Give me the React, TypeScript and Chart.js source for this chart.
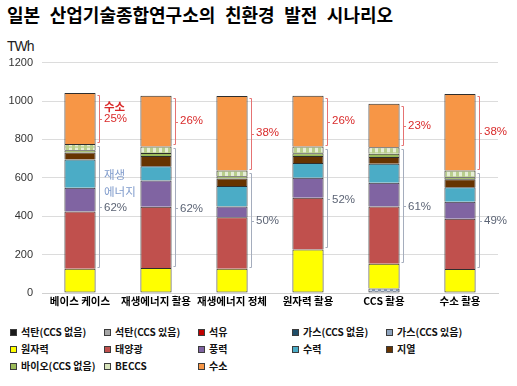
import React, { useEffect, useRef } from 'react';
import { Chart, registerables } from 'chart.js';

Chart.register(...registerables);

// ---------- data ----------
const categories = ['베이스 케이스', '재생에너지 활용', '재생에너지 정체', '원자력 활용', 'CCS 활용', '수소 활용'];

const coalNoCCS = [0, 0, 0, 0, 0, 0];
const coalCCS = [0, 0, 0, 0, 0, 0];
const oil = [0, 0, 0, 0, 0, 0];
const gasNoCCS = [0, 0, 0, 0, 0, 0];
const gasCCS = [0, 0, 0, 0, 24, 0];
const nuclear = [127, 130, 127, 227, 129, 125];
const solar = [298, 319, 268, 269, 298, 262];
const wind = [123, 137, 56, 104, 123, 88];
const hydro = [147, 74, 107, 78, 99, 76];
const geothermal = [37, 54, 38, 36, 36, 42];
const bio = [12, 16, 12, 14, 16, 10];
const beccs = [33, 34, 30, 35, 34, 35];
const hydrogen = [265, 264, 388, 265, 227, 399];

const seriesNames = [
  '석탄(CCS 없음)', '석탄(CCS 있음)', '석유', '가스(CCS 없음)', '가스(CCS 있음)',
  '원자력', '태양광', '풍력', '수력', '지열',
  '바이오(CCS 없음)', 'BECCS', '수소',
];
const seriesValues = [coalNoCCS, coalCCS, oil, gasNoCCS, gasCCS, nuclear, solar, wind, hydro, geothermal, bio, beccs, hydrogen];
const seriesColors = [
  '#1A1A1A', '#A6A6A6', '#C00000', '#1F4E69', '#8EA4BE',
  '#FFFF00', '#C0504D', '#8064A2', '#4BACC6', '#663300',
  '#9BBB59', '#D8E4BC', '#F79646',
];

const hydrogenPct = ['25%', '26%', '38%', '26%', '23%', '38%'];
const renewPct = ['62%', '62%', '50%', '52%', '61%', '49%'];
const hydrogenNote = '수소';
const renewNote = ['재생', '에너지'];

const yTicks = [0, 200, 400, 600, 800, 1000, 1200];

const NUCLEAR_IDX = 5;
const BECCS_IDX = 11;
const H2_IDX = 12;

function makePattern(kind: 'beccs' | 'gas'): CanvasPattern | string {
  const c = document.createElement('canvas');
  c.width = 6;
  c.height = 6;
  const g = c.getContext('2d');
  if (!g) return kind === 'beccs' ? '#D8E4BC' : '#8EA4BE';
  if (kind === 'beccs') {
    g.fillStyle = '#E6EED6';
    g.fillRect(0, 0, 6, 6);
    g.fillStyle = '#B9CE8C';
    g.fillRect(0, 0, 3, 6);
    g.fillStyle = '#C9DAA3';
    g.fillRect(3, 2, 3, 2);
  } else {
    g.fillStyle = '#D3DCE8';
    g.fillRect(0, 0, 6, 6);
    g.fillStyle = '#7F93AE';
    g.fillRect(0, 0, 3, 3);
    g.fillRect(3, 3, 3, 3);
  }
  const p = g.createPattern(c, 'repeat');
  return p || (kind === 'beccs' ? '#D8E4BC' : '#8EA4BE');
}

function cumulative(upTo: number, i: number) {
  let s = 0;
  for (let k = 0; k <= upTo; k++) s += seriesValues[k][i] || 0;
  return s;
}

function lowestNonZero(i: number) {
  for (let k = 0; k < seriesValues.length; k++) if (seriesValues[k][i]) return k;
  return -1;
}

function drawBracket(ctx: CanvasRenderingContext2D, right: number, top: number, bottom: number, color: string) {
  const vx = Math.round(right + 3) + 0.5;
  const hx = vx - 2;
  const t = Math.round(top + 2) + 0.5;
  const b = Math.round(bottom - 2) + 0.5;
  const mid = Math.round((t + b) / 2) + 0.5;
  ctx.save();
  ctx.strokeStyle = color;
  ctx.lineWidth = 1;
  ctx.beginPath();
  ctx.moveTo(hx, t);
  ctx.lineTo(vx, t);
  ctx.lineTo(vx, b);
  ctx.lineTo(hx, b);
  ctx.moveTo(vx, mid);
  ctx.lineTo(vx + 2.5, mid);
  ctx.stroke();
  ctx.restore();
  return { x: vx, mid: (top + bottom) / 2 };
}

const bracketPlugin = {
  id: 'brackets',
  afterDatasetsDraw(chart: any) {
    const ctx: CanvasRenderingContext2D = chart.ctx;
    const y = chart.scales.y;
    const meta = chart.getDatasetMeta(NUCLEAR_IDX);
    categories.forEach((_, i) => {
      const bar: any = meta.data[i];
      if (!bar) return;
      const right = bar.x + bar.width / 2;
      const renewBottom = y.getPixelForValue(cumulative(NUCLEAR_IDX, i));
      const renewTop = y.getPixelForValue(cumulative(BECCS_IDX, i));
      const h2Top = y.getPixelForValue(cumulative(H2_IDX, i));

      const h = drawBracket(ctx, right, h2Top, renewTop, '#E57373');
      const r = drawBracket(ctx, right, renewTop, renewBottom, '#A5ADBD');

      ctx.save();
      ctx.textBaseline = 'middle';
      ctx.textAlign = 'left';
      const tx = h.x + 4.5;
      ctx.font = '11.5px "Liberation Sans", Arial, sans-serif';
      ctx.fillStyle = '#D92B2B';
      ctx.fillText(hydrogenPct[i], tx, h.mid);
      ctx.fillStyle = '#5C6475';
      ctx.fillText(renewPct[i], tx, r.mid + 1.5);
      if (i === 0) {
        ctx.font = 'bold 11.5px "Noto Sans CJK KR", sans-serif';
        ctx.fillStyle = '#D92B2B';
        ctx.fillText(hydrogenNote, tx, h.mid - 12);
        ctx.font = '11.5px "Noto Sans CJK KR", sans-serif';
        ctx.fillStyle = '#7E9ACB';
        ctx.fillText(renewNote[1], tx, r.mid - 14.5);
        ctx.fillText(renewNote[0], tx, r.mid - 31.5);
      }
      ctx.restore();
    });
  },
};

export default function App() {
  const ref = useRef<HTMLCanvasElement | null>(null);

  useEffect(() => {
    document.body.style.margin = '0';
    const canvas = ref.current;
    if (!canvas) return;
    const beccsPattern = makePattern('beccs');
    const gasPattern = makePattern('gas');

    const datasets = seriesNames.map((name, k) => ({
      label: name,
      data: seriesValues[k].map((v) => (v ? v : null)),
      backgroundColor: k === BECCS_IDX ? beccsPattern : k === 4 ? gasPattern : seriesColors[k],
      borderColor: '#2E2E2E',
      borderSkipped: false as const,
      borderWidth: (c: any) => ({
        top: 1,
        left: 1,
        right: 1,
        bottom: lowestNonZero(c.dataIndex) === k ? 1 : 0,
      }),
      categoryPercentage: 1,
      barPercentage: 0.41,
    }));

    const chart = new Chart(canvas, {
      type: 'bar',
      data: { labels: categories, datasets: datasets as any },
      options: {
        responsive: false,
        animation: false,
        devicePixelRatio: 1,
        layout: { padding: { left: 0, right: 19, top: 62.7, bottom: 0 } },
        plugins: {
          legend: { display: false },
          tooltip: { enabled: false },
          title: { display: false },
        },
        scales: {
          x: {
            stacked: true,
            grid: { display: false, drawTicks: false },
            border: { display: true, color: '#D0D0D0' },
            ticks: {
              autoSkip: false,
              maxRotation: 0,
              padding: 2,
              color: '#000',
              font: { family: '"Noto Sans CJK KR", sans-serif', size: 10.5, weight: 'bold' },
            },
            afterFit: (s: any) => {
              s.height = 22;
            },
          },
          y: {
            stacked: true,
            min: 0,
            max: 1200,
            afterBuildTicks: (s: any) => {
              s.ticks = yTicks.map((v) => ({ value: v }));
            },
            grid: { color: '#DCDCDC', drawTicks: false },
            border: { display: false },
            ticks: {
              padding: 9,
              color: '#333',
              font: { family: '"Liberation Sans", Arial, sans-serif', size: 11 },
              callback: (v: any) => String(v),
            },
            afterFit: (s: any) => {
              s.width = 42;
            },
          },
        },
      },
      plugins: [bracketPlugin],
    });
    return () => chart.destroy();
  }, []);

  const legendCols = [10, 104, 198, 292, 386];
  const legendRows = [332, 349.3, 366];

  return (
    <div style={{ position: 'relative', width: 517, height: 386, background: '#fff', overflow: 'hidden' }}>
      <div
        style={{
          position: 'absolute',
          left: 7,
          top: 4,
          fontFamily: '"Noto Sans CJK KR", sans-serif',
          fontWeight: 'bold',
          fontSize: 18,
          lineHeight: '20px',
          wordSpacing: 5.5,
          whiteSpace: 'nowrap',
          color: '#000',
        }}
      >
        일본 산업기술종합연구소의 친환경 발전 시나리오
      </div>
      <div
        style={{
          position: 'absolute',
          left: 7,
          top: 38.5,
          fontFamily: '"Liberation Sans", Arial, sans-serif',
          fontSize: 14,
          lineHeight: '14px',
          letterSpacing: -1,
          color: '#222',
        }}
      >
        TWh
      </div>
      <canvas ref={ref} width={517} height={315} style={{ position: 'absolute', left: 0, top: 0, width: 517, height: 315 }} />
      {seriesNames.map((name, k) => {
        const col = k % 5;
        const row = Math.floor(k / 5);
        return (
          <div
            key={name}
            style={{
              position: 'absolute',
              left: legendCols[col],
              top: legendRows[row] - 7,
              height: 14,
              display: 'flex',
              alignItems: 'center',
              whiteSpace: 'nowrap',
            }}
          >
            <span
              style={{
                display: 'inline-block',
                width: 7,
                height: 7,
                boxSizing: 'border-box',
                border: '1px solid #3C3C3C',
                background: seriesColors[k],
              }}
            />
            <span
              style={{
                marginLeft: 4,
                fontFamily: '"Noto Sans CJK KR", sans-serif',
                fontWeight: 'bold',
                fontSize: 10,
                lineHeight: '14px',
                color: '#111',
              }}
            >
              {name}
            </span>
          </div>
        );
      })}
    </div>
  );
}
